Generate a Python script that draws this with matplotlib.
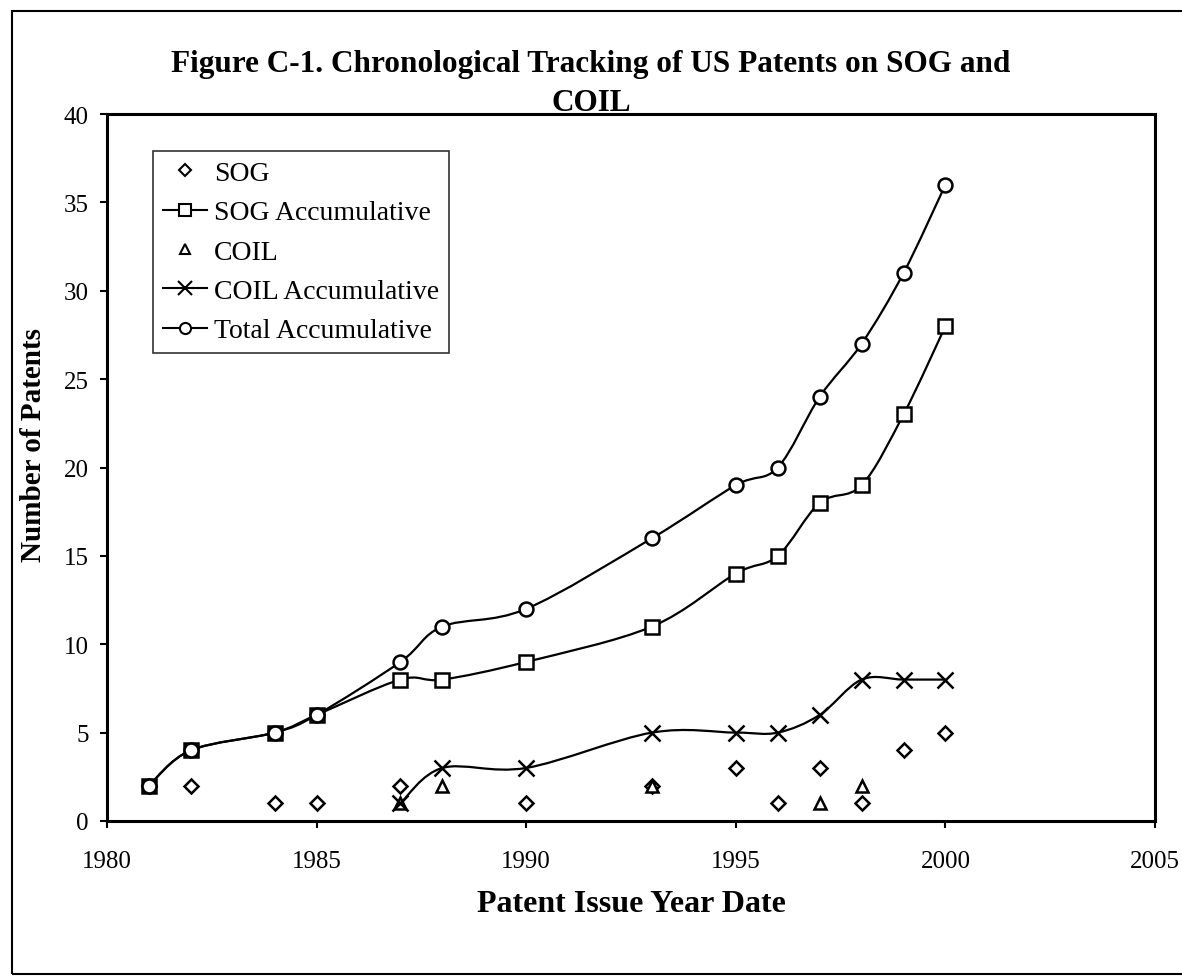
import matplotlib
matplotlib.use("Agg")
import matplotlib.pyplot as plt
from matplotlib.path import Path
from matplotlib.patches import PathPatch, Rectangle
from matplotlib.lines import Line2D

# === DADOS ===
sog_years = [1981, 1982, 1984, 1985, 1987, 1990, 1993, 1995, 1996, 1997, 1998, 1999, 2000]
sog_count = [2, 2, 1, 1, 2, 1, 2, 3, 1, 3, 1, 4, 5]

coil_years = [1987, 1988, 1993, 1997, 1998]
coil_count = [1, 2, 2, 1, 2]

acc_years = [1981, 1982, 1984, 1985, 1987, 1988, 1990, 1993, 1995, 1996, 1997, 1998, 1999, 2000]
sog_acc = [2, 4, 5, 6, 8, 8, 9, 11, 14, 15, 18, 19, 23, 28]
total_acc = [2, 4, 5, 6, 9, 11, 12, 16, 19, 20, 24, 27, 31, 36]

coil_acc_years = [1987, 1988, 1990, 1993, 1995, 1996, 1997, 1998, 1999, 2000]
coil_acc = [1, 3, 3, 5, 5, 5, 6, 8, 8, 8]

labels = ["SOG", "SOG Accumulative", "COIL", "COIL Accumulative", "Total Accumulative"]

plt.rcParams["font.family"] = ["Liberation Serif", "DejaVu Serif"]


def smooth_path(xs, ys):
    # curva suave estilo Excel (Catmull-Rom -> Bezier)
    pts = list(zip(xs, ys))
    verts = [pts[0]]
    codes = [Path.MOVETO]
    n = len(pts)
    for i in range(n - 1):
        p0 = pts[i - 1] if i > 0 else pts[i]
        p1 = pts[i]
        p2 = pts[i + 1]
        p3 = pts[i + 2] if i + 2 < n else pts[i + 1]
        c1 = (p1[0] + (p2[0] - p0[0]) / 6, p1[1] + (p2[1] - p0[1]) / 6)
        c2 = (p2[0] - (p3[0] - p1[0]) / 6, p2[1] - (p3[1] - p1[1]) / 6)
        verts += [c1, c2, p2]
        codes += [Path.CURVE4] * 3
    return Path(verts, codes)


fig = plt.figure(figsize=(11.82, 9.79), dpi=100)
ax = fig.add_axes([0.0905, 0.1604, 0.8867, 0.7221])

for xs, ys in [(acc_years, sog_acc), (coil_acc_years, coil_acc), (acc_years, total_acc)]:
    ax.add_patch(PathPatch(smooth_path(xs, ys), facecolor="none", edgecolor="black", lw=1.6, zorder=2))

mk = dict(color="black", markerfacecolor="white", markeredgewidth=1.8, linestyle="none", zorder=3)
ax.plot(sog_years, sog_count, marker="D", markersize=7, **mk)
ax.plot(acc_years, sog_acc, marker="s", markersize=10, **mk)
ax.plot(coil_years, coil_count, marker="^", markersize=9, **mk)
ax.plot(coil_acc_years, coil_acc, marker="x", markersize=11, **mk)
ax.plot(acc_years, total_acc, marker="o", markersize=10, **mk)

ax.set_xlim(1980, 2005)
ax.set_ylim(0, 40)
ax.set_xticks(range(1980, 2006, 5))
ax.set_yticks(range(0, 41, 5))
ax.tick_params(axis="x", direction="out", length=5, width=1.5, pad=16, labelsize=18)
ax.tick_params(axis="y", direction="out", length=5, width=1.5, pad=8, labelsize=18)
for s in ax.spines.values():
    s.set_linewidth(2.2)

lw_kw = dict(color="black", markerfacecolor="white", markeredgewidth=1.5)
handles = [
    Line2D([], [], marker="D", markersize=6, linestyle="none", **lw_kw),
    Line2D([], [], marker="s", markersize=9, linestyle="-", lw=1.5, **lw_kw),
    Line2D([], [], marker="^", markersize=7, linestyle="none", **lw_kw),
    Line2D([], [], marker="x", markersize=10, linestyle="-", lw=1.5, **lw_kw),
    Line2D([], [], marker="o", markersize=8, linestyle="-", lw=1.5, **lw_kw),
]
leg = ax.legend(handles, labels, loc="upper left", bbox_to_anchor=(0.044, 0.948),
                borderaxespad=0, fontsize=20, frameon=True, fancybox=False,
                edgecolor="black", handlelength=1.6, handletextpad=0.25,
                labelspacing=0.5, borderpad=0.35)
leg.get_frame().set_linewidth(1.2)

fig.text(0.5, 1 - 72 / 979, "Figure C-1. Chronological Tracking of US Patents on SOG and",
         ha="center", va="baseline", fontsize=22.5, fontweight="bold")
fig.text(0.5, 1 - 111 / 979, "COIL", ha="center", va="baseline", fontsize=22.5, fontweight="bold")
fig.text(0.534, 1 - 912 / 979, "Patent Issue Year Date", ha="center", va="baseline",
         fontsize=23, fontweight="bold")
fig.text(34 / 1182, 1 - 445 / 979, "Number of Patents", rotation=90, ha="center", va="center",
         fontsize=21, fontweight="bold")

fig.patches.append(Rectangle((12 / 1182, 4 / 979), 1.2, 963 / 979, transform=fig.transFigure,
                             fill=False, edgecolor="black", lw=1.5))

fig.savefig("out.png", dpi=100)
